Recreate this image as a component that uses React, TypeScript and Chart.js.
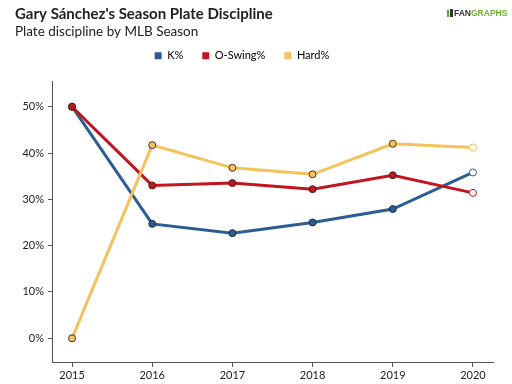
import React, { useEffect, useRef } from "react";
import { Chart, registerables, layouts } from "chart.js";

Chart.register(...registerables);

const years = [2015, 2016, 2017, 2018, 2019, 2020];
const kPct = [50.0, 24.7, 22.7, 25.0, 27.9, 35.8];
const oSwingPct = [50.0, 33.0, 33.5, 32.2, 35.2, 31.4];
const hardPct = [0.0, 41.7, 36.8, 35.4, 42.0, 41.2];
const yTickValues = [0, 10, 20, 30, 40, 50];

const seriesNames = ["K%", "O-Swing%", "Hard%"];
const seriesColors = ["#2c5d92", "#c1161f", "#f5c15b"];

const FONT = "Lato, 'Open Sans', sans-serif";

const spacerPlugin = {
  id: "legendSpacer",
  start(chart: any, _args: any, opts: any) {
    const box: any = {
      position: "top",
      weight: 900,
      fullSize: true,
      options: {},
      left: 0,
      top: 0,
      right: 0,
      bottom: 0,
      width: 0,
      height: 0,
      isHorizontal() {
        return true;
      },
      update(maxWidth: number) {
        this.width = maxWidth;
        this.height = opts && opts.height != null ? opts.height : 10;
        return {};
      },
      draw() {},
    };
    layouts.addBox(chart, box);
  },
};

const legendShiftPlugin = {
  id: "legendShift",
  afterLayout(chart: any, _args: any, opts: any) {
    const l = chart.legend;
    if (l) {
      const dx = opts && opts.dx ? opts.dx : 0;
      l.left += dx;
      l.right += dx;
    }
  },
};

const logoPlugin = {
  id: "fgLogo",
  afterDraw(chart: any) {
    const ctx = chart.ctx;
    ctx.save();
    ctx.fillStyle = "#5aa531";
    ctx.fillRect(447, 10, 2, 7);
    ctx.fillStyle = "#333";
    ctx.fillRect(450, 9, 3, 8);
    ctx.font = "bold 8.5px 'Liberation Sans', Arial, sans-serif";
    ctx.textBaseline = "middle";
    ctx.textAlign = "left";
    ctx.fillStyle = "#333";
    ctx.fillText("FAN", 454, 14);
    const w = ctx.measureText("FAN").width;
    ctx.fillStyle = "#6ab42d";
    ctx.fillText("GRAPHS", 454 + w, 14);
    ctx.restore();
  },
};

export default function App() {
  const ref = useRef<HTMLCanvasElement | null>(null);

  useEffect(() => {
    if (!ref.current) return;
    const mk = (vals: number[], i: number, order: number) => ({
      label: seriesNames[i],
      data: years.map((yr, j) => ({ x: yr, y: vals[j] })),
      borderColor: seriesColors[i],
      backgroundColor: seriesColors[i],
      borderWidth: 3,
      tension: 0,
      pointRadius: 3.5,
      pointBorderWidth: 1,
      pointBackgroundColor: vals.map((_, j) => (j === vals.length - 1 ? "#ffffff" : seriesColors[i])),
      pointBorderColor: vals.map((_, j) => (j === vals.length - 1 ? seriesColors[i] : "rgba(30,30,30,0.85)")),
      order,
    });
    const chart = new Chart(ref.current, {
      type: "line",
      data: {
        datasets: [mk(kPct, 0, 2), mk(oSwingPct, 1, 1), mk(hardPct, 2, 0)],
      },
      options: {
        animation: false,
        responsive: true,
        maintainAspectRatio: false,
        layout: { padding: { left: 15, right: 19, top: 0, bottom: 0 } },
        plugins: {
          title: {
            display: true,
            text: "Gary Sánchez's Season Plate Discipline",
            align: "start",
            color: "#222",
            font: { family: FONT, size: 15, weight: "bold", lineHeight: 1.2 },
            padding: { top: 5, bottom: 0 },
          },
          subtitle: {
            display: true,
            text: "Plate discipline by MLB Season",
            align: "start",
            color: "#222",
            font: { family: FONT, size: 13.5, weight: "normal", lineHeight: 1.2 },
            padding: { top: 0.5, bottom: -8.5 },
          },
          legend: {
            display: true,
            position: "top",
            labels: {
              boxWidth: 7,
              boxHeight: 7,
              padding: 19,
              color: "#333",
              font: { family: FONT, size: 11 },
              sort: (a: any, b: any) => a.datasetIndex - b.datasetIndex,
              generateLabels: (chart: any) =>
                chart.data.datasets.map((ds: any, i: number) => ({
                  text: ds.label,
                  fillStyle: seriesColors[i],
                  strokeStyle: seriesColors[i],
                  lineWidth: 0,
                  hidden: false,
                  datasetIndex: i,
                })),
            },
          },
          tooltip: { enabled: false },
          legendSpacer: { height: 10.5 },
          legendShift: { dx: -12 },
        } as any,
        scales: {
          x: {
            type: "linear",
            min: 2014.75,
            max: 2020.25,
            afterBuildTicks: (scale: any) => {
              scale.ticks = years.map((v) => ({ value: v }));
            },
            grid: {
              display: true,
              drawOnChartArea: false,
              drawTicks: true,
              tickLength: 4,
              tickColor: "#555",
            },
            border: { display: true, color: "#555", width: 1 },
            ticks: {
              padding: 2,
              color: "#222",
              font: { family: FONT, size: 11 },
              callback: (v: any) => String(v),
              maxRotation: 0,
            },
          },
          y: {
            type: "linear",
            min: -5.3,
            max: 55.4,
            afterBuildTicks: (scale: any) => {
              scale.ticks = yTickValues.map((v) => ({ value: v }));
            },
            afterFit: (scale: any) => {
              scale.width = 37;
            },
            grid: {
              display: true,
              drawOnChartArea: false,
              drawTicks: true,
              tickLength: 4,
              tickColor: "#555",
            },
            border: { display: true, color: "#555", width: 1 },
            ticks: {
              padding: 4,
              color: "#222",
              font: { family: FONT, size: 11 },
              callback: (v: any) => v + "%",
            },
          },
        },
      },
      plugins: [spacerPlugin as any, legendShiftPlugin as any, logoPlugin as any],
    });
    return () => chart.destroy();
  }, []);

  return (
    <div style={{ position: "fixed", left: 0, top: 0, width: 512, height: 384, background: "#fff" }}>
      <canvas ref={ref} />
    </div>
  );
}
